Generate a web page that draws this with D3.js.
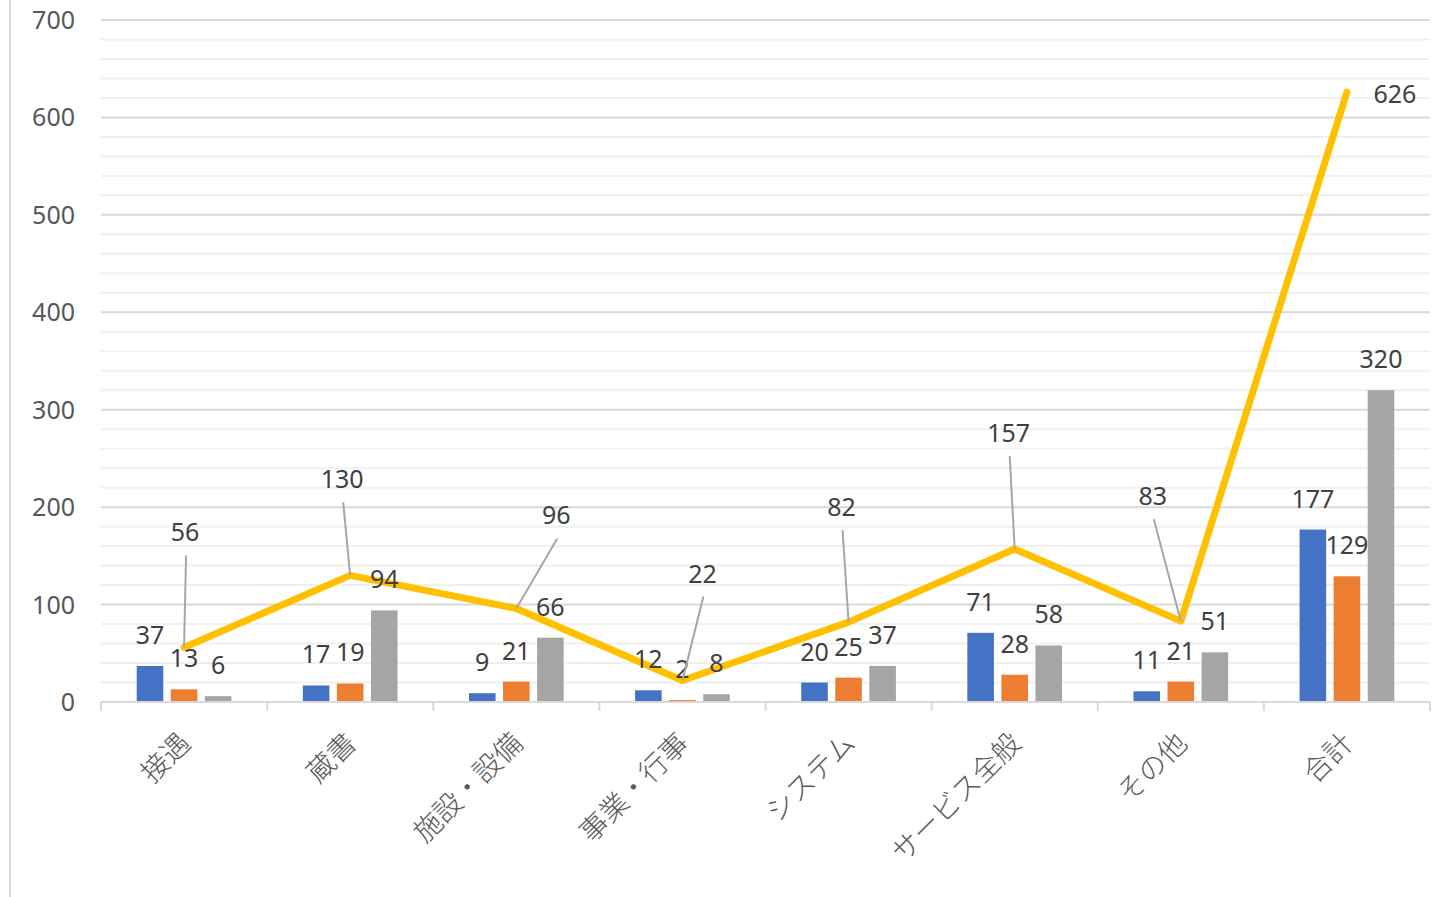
<!DOCTYPE html>
<html>
<head>
<meta charset="utf-8">
<script src="https://cdn.jsdelivr.net/npm/d3@7"></script>
<style>
  body { margin: 0; background: #fff; }
  text { font-family: "Noto Sans", "Noto Sans CJK JP", sans-serif; }
  .cat { font-family: "Noto Sans CJK JP", sans-serif; font-weight: 300; }
</style>
</head>
<body>
<div id="chart"></div>
<script>
const categories = ['接遇', '蔵書', '施設・設備', '事業・行事', 'システム', 'サービス全般', 'その他', '合計'];
const seriesBlue = [37, 17, 9, 12, 20, 71, 11, 177];
const seriesOrange = [13, 19, 21, 2, 25, 28, 21, 129];
const seriesGray = [6, 94, 66, 8, 37, 58, 51, 320];
const totals = [56, 130, 96, 22, 82, 157, 83, 626];
const yTicks = [0, 100, 200, 300, 400, 500, 600, 700];

// where the callout labels of the line sit, relative to their point
const lineLabelOffsets = [[1, -115], [-8, -96], [40, -93], [20, -107], [-7, -115], [-6, -116], [-28, -125], [48, 2]];

const barColors = ['#4472C4', '#ED7D31', '#A5A5A5'];
const width = 1454, height = 897;
const plotLeft = 101, plotRight = 1430, plotTop = 20, plotBottom = 702;

const svg = d3.select('#chart')
    .append('svg')
    .attr('width', width)
    .attr('height', height);

// chart area border (left side only visible)
svg.append('line')
    .attr('x1', 10).attr('x2', 10)
    .attr('y1', 0).attr('y2', height)
    .attr('stroke', '#d9d9d9')
    .attr('stroke-width', 2);

const y = d3.scaleLinear().domain([0, 700]).range([plotBottom, plotTop]);
const x0 = d3.scaleBand().domain(categories).range([plotLeft, plotRight]).paddingInner(0.43).paddingOuter(0.215);
const x1 = d3.scaleBand().domain([0, 1, 2]).range([0, x0.bandwidth()]).paddingInner(0.22);

// gridlines: minor every 20, major every 100
const minor = d3.range(20, 700, 20).filter(v => v % 100 !== 0);
svg.append('g').selectAll('line')
    .data(minor)
    .join('line')
    .attr('x1', plotLeft).attr('x2', plotRight)
    .attr('y1', d => y(d)).attr('y2', d => y(d))
    .attr('stroke', '#f0f0f0')
    .attr('stroke-width', 2);

svg.append('g').selectAll('line')
    .data(yTicks.filter(v => v > 0))
    .join('line')
    .attr('x1', plotLeft).attr('x2', plotRight)
    .attr('y1', d => y(d)).attr('y2', d => y(d))
    .attr('stroke', '#d9d9d9')
    .attr('stroke-width', 2);

// y labels
svg.append('g').selectAll('text')
    .data(yTicks)
    .join('text')
    .attr('x', 75)
    .attr('y', d => y(d))
    .attr('dy', '0.36em')
    .attr('text-anchor', 'end')
    .attr('fill', '#595959')
    .attr('font-size', 25)
    .text(d => d);

// bars
const series = [seriesBlue, seriesOrange, seriesGray];
const barData = [];
series.forEach((s, si) => s.forEach((v, i) => barData.push({ cat: categories[i], si, v })));

svg.append('g').selectAll('rect')
    .data(barData)
    .join('rect')
    .attr('x', d => x0(d.cat) + x1(d.si))
    .attr('y', d => y(d.v))
    .attr('width', x1.bandwidth())
    .attr('height', d => y(0) - y(d.v))
    .attr('fill', d => barColors[d.si]);

// x axis
svg.append('line')
    .attr('x1', plotLeft).attr('x2', plotRight)
    .attr('y1', plotBottom).attr('y2', plotBottom)
    .attr('stroke', '#d9d9d9')
    .attr('stroke-width', 2);

const boundaries = d3.range(categories.length + 1).map(i => plotLeft + i * x0.step());
svg.append('g').selectAll('line')
    .data(boundaries)
    .join('line')
    .attr('x1', d => d).attr('x2', d => d)
    .attr('y1', plotBottom).attr('y2', plotBottom + 9)
    .attr('stroke', '#d9d9d9')
    .attr('stroke-width', 2);

const cx = c => x0(c) + x0.bandwidth() / 2;

svg.append('g').selectAll('text')
    .data(categories)
    .join('text')
    .attr('class', 'cat')
    .attr('transform', d => `translate(${cx(d) + 1}, ${plotBottom + 36}) rotate(-45)`)
    .attr('text-anchor', 'end')
    .attr('dy', '0.35em')
    .attr('fill', '#595959')
    .attr('font-size', 28)
    .text(d => d);

// total line
const line = d3.line()
    .x((d, i) => cx(categories[i]))
    .y(d => y(d));

svg.append('path')
    .datum(totals)
    .attr('d', line)
    .attr('fill', 'none')
    .attr('stroke', '#FFC000')
    .attr('stroke-width', 7)
    .attr('stroke-linejoin', 'round')
    .attr('stroke-linecap', 'round');

// bar labels
svg.append('g').selectAll('text')
    .data(barData)
    .join('text')
    .attr('x', d => x0(d.cat) + x1(d.si) + x1.bandwidth() / 2)
    .attr('y', d => y(d.v) - 31)
    .attr('dy', '0.36em')
    .attr('text-anchor', 'middle')
    .attr('fill', '#404040')
    .attr('font-size', 25)
    .text(d => d.v);

// line labels with leader lines
const lineLabels = totals.map((v, i) => ({
    px: cx(categories[i]),
    py: y(v),
    lx: cx(categories[i]) + lineLabelOffsets[i][0],
    ly: y(v) + lineLabelOffsets[i][1],
    v
}));

svg.append('g').selectAll('line')
    .data(lineLabels.filter(d => d.ly < d.py - 40))
    .join('line')
    .attr('x1', d => d.lx + 1).attr('y1', d => d.ly + 23)
    .attr('x2', d => d.px).attr('y2', d => d.py)
    .attr('stroke', '#a6a6a6')
    .attr('stroke-width', 2);

svg.append('g').selectAll('text')
    .data(lineLabels)
    .join('text')
    .attr('x', d => d.lx)
    .attr('y', d => d.ly)
    .attr('dy', '0.36em')
    .attr('text-anchor', 'middle')
    .attr('fill', '#404040')
    .attr('font-size', 25)
    .text(d => d.v);
</script>
</body>
</html>
